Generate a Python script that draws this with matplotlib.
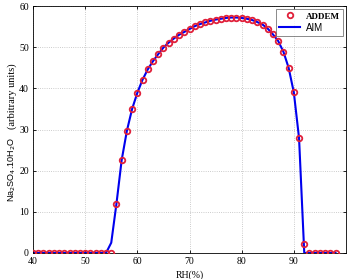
import numpy as np
import matplotlib
matplotlib.use("Agg")
import matplotlib.pyplot as plt

# RH (%) values and Na2SO4.10H2O amounts
rh = list(range(40, 99))
addem = ([0.0] * 16 +
         [12.0, 22.6, 29.7, 35.0, 38.9, 42.1, 44.6, 46.6, 48.3, 49.9,
          51.1, 52.1, 53.0, 53.7, 54.4, 55.1, 55.6, 56.0, 56.4, 56.7,
          56.9, 57.1, 57.2, 57.2, 57.1, 56.9, 56.6, 56.1, 55.5, 54.5,
          53.1, 51.5, 48.9, 45.0, 39.0, 27.9, 2.2] +
         [0.0] * 6)
aim = list(addem)
aim[rh.index(55)] = 2.5
aim[rh.index(92)] = 0.0

xticks = [40, 50, 60, 70, 80, 90]
yticks = [0, 10, 20, 30, 40, 50, 60]

serif = "Liberation Serif"
sans = "Liberation Sans"

fig = plt.figure(figsize=(3.51, 2.79), dpi=100)
ax = fig.add_axes([33 / 351, 1 - 253 / 279, 313 / 351, 247 / 279])

ax.plot(rh, aim, color="#0000ee", lw=1.5, zorder=2, label="AIM")
ax.plot(rh, addem, ls="none", marker="o", ms=4.0, mfc="none",
        mec="#e0203a", mew=1.3, zorder=3, label="ADDEM")

ax.set_xlim(40, 100)
ax.set_ylim(0, 60)
ax.set_xticks(xticks)
ax.set_yticks(yticks)
ax.grid(True, ls=":", lw=0.6, color="#bbbbbb")
ax.tick_params(direction="in", length=2.5, width=0.6, labelsize=7,
               top=True, right=True, pad=3)
for lab in ax.get_xticklabels() + ax.get_yticklabels():
    lab.set_family(serif)
for sp in ax.spines.values():
    sp.set_linewidth(0.6)

ax.set_xlabel("RH(%)", family=serif, fontsize=7, labelpad=3)

# y label: chemical formula in sans, units in serif
fig.text(12 / 351, 1 - 169 / 279, r"Na$_2$SO$_4$.10H$_2$O", rotation=90,
         ha="center", va="center", family=sans, fontsize=6.5,
         math_fontfamily="custom")
fig.text(12 / 351, 1 - 96 / 279, "(arbitrary units)", rotation=90,
         ha="center", va="center", family=serif, fontsize=7.5)

h, l = ax.get_legend_handles_labels()
leg = ax.legend(h[::-1], l[::-1], loc="upper right", fontsize=7,
                frameon=True, fancybox=False, edgecolor="#555555",
                borderpad=0.3, handlelength=2.2, handletextpad=0.6,
                borderaxespad=0.3, labelspacing=0.2)
leg.get_frame().set_linewidth(0.6)
t0, t1 = leg.get_texts()
t0.set_family(serif)
t0.set_weight("bold")
t0.set_fontsize(6.5)
t1.set_family(sans)

fig.savefig("out.png", dpi=100, facecolor="white")
